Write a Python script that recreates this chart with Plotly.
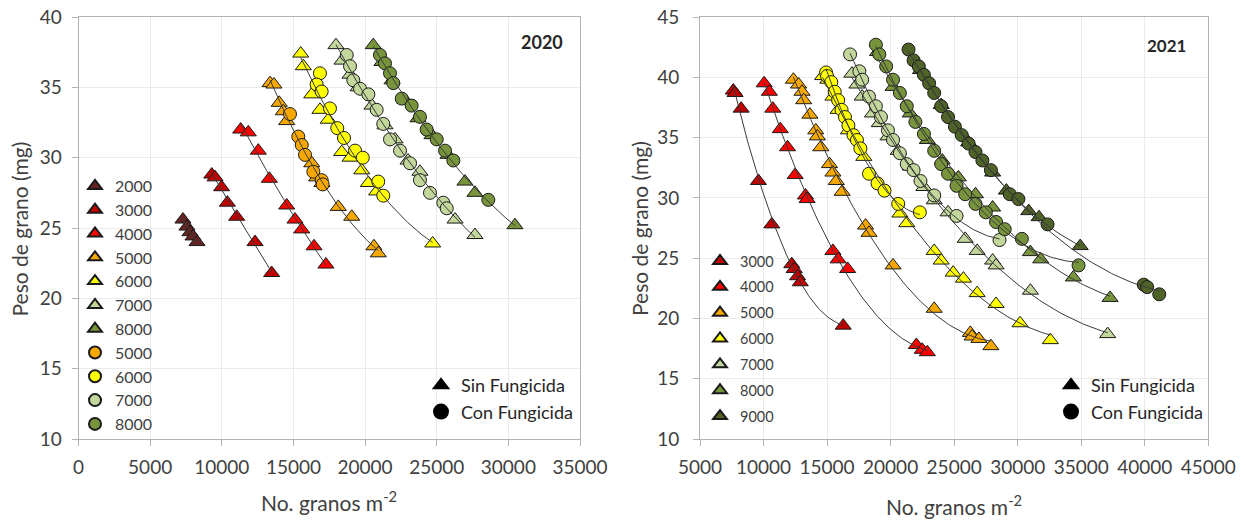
import numpy as np
import plotly.graph_objects as go

# ---------------- data: 2020 (left panel) ----------------
S20_2000_x = [7290, 7570, 7780, 7990, 8270]
S20_2000_y = [25.6, 25.1, 24.7, 24.4, 24.0]
S20_3000_x = [9300, 9530, 9990, 10390, 11040, 12320, 13480]
S20_3000_y = [28.8, 28.6, 27.9, 26.8, 25.8, 24.0, 21.8]
S20_4000_x = [11320, 11850, 12550, 13320, 14530, 15110, 15580, 16440, 17270]
S20_4000_y = [32.0, 31.8, 30.5, 28.5, 26.6, 25.6, 24.9, 23.7, 22.4]
S20_5000_x = [13370, 13640, 14010, 14290, 14530, 16280, 16620, 16990, 18130, 19070, 20620, 20920]
S20_5000_y = [35.3, 35.2, 33.9, 33.3, 32.6, 29.6, 28.6, 28.2, 26.5, 25.8, 23.7, 23.2]
C20_5000_x = [14760, 15340, 15580, 15810, 16390, 16970, 17040]
C20_5000_y = [33.1, 31.5, 30.9, 30.2, 29.0, 28.4, 28.1]
S20_6000_x = [15510, 15690, 16280, 16850, 17430, 18370, 18950, 19770, 20230, 20810, 24720]
S20_6000_y = [37.4, 36.5, 34.5, 33.4, 32.7, 30.4, 30.0, 29.1, 28.2, 27.6, 23.9]
C20_6000_x = [16850, 16620, 16970, 17550, 18060, 18530, 19300, 19840, 20920, 21270]
C20_6000_y = [36.0, 35.2, 34.7, 33.5, 32.1, 31.4, 30.5, 30.0, 28.3, 27.3]
S20_7000_x = [17970, 18390, 18950, 19510, 20480, 21390, 22090, 23000, 23830, 26280, 27670]
S20_7000_y = [38.0, 36.9, 35.9, 35.0, 33.7, 32.3, 31.3, 29.8, 29.0, 25.6, 24.5]
C20_7000_x = [18720, 18950, 19180, 19650, 20230, 20810, 21270, 21740, 22440, 23140, 23830, 24530, 25460, 25700]
C20_7000_y = [37.3, 36.5, 35.5, 34.9, 34.5, 33.4, 32.4, 31.3, 30.5, 29.6, 28.4, 27.5, 26.8, 26.4]
S20_8000_x = [20570, 21180, 21880, 22790, 23690, 24670, 25790, 26970, 27670, 30460]
S20_8000_y = [38.0, 36.8, 35.5, 34.1, 32.8, 31.6, 30.2, 28.3, 27.5, 25.2]
C20_8000_x = [21040, 21390, 21740, 21970, 22560, 23250, 23830, 24300, 25000, 25580, 26160, 28600]
C20_8000_y = [37.3, 36.7, 36.0, 35.3, 34.2, 33.7, 32.9, 32.0, 31.3, 30.5, 29.8, 27.0]

# ---------------- data: 2021 (right panel) ----------------
S21_3000_x = [7620, 7760, 8240, 9600, 10650, 12220, 12410, 12680, 12890, 16270]
S21_3000_y = [38.9, 38.7, 37.4, 31.4, 27.8, 24.5, 24.1, 23.5, 23.0, 19.4]
S21_4000_x = [10050, 10460, 10730, 11320, 11890, 12490, 13300, 13430, 15460, 15870, 16620, 22030, 22490, 22890]
S21_4000_y = [39.5, 38.8, 37.4, 35.7, 34.2, 31.9, 30.2, 29.9, 25.6, 24.9, 24.1, 17.8, 17.4, 17.2]
S21_5000_x = [12350, 12760, 13030, 13160, 13650, 14110, 14240, 14510, 15190, 15460, 15730, 16190, 18030, 18300,
              20190, 23430, 26270, 26410, 26950, 27890]
S21_5000_y = [39.8, 39.4, 38.8, 38.1, 36.9, 35.6, 35.1, 34.2, 32.8, 32.1, 31.4, 30.5, 27.7, 27.1,
              24.4, 20.8, 18.8, 18.5, 18.3, 17.7]
S21_6000_x = [14650, 15060, 15460, 15870, 16680, 17890, 20730, 21270, 23430, 23980, 24920, 25730, 26810, 28300, 30190, 32570]
S21_6000_y = [40.1, 39.8, 38.4, 37.3, 35.6, 33.4, 28.7, 27.9, 25.6, 24.8, 23.8, 23.3, 22.1, 21.2, 19.6, 18.2]
C21_6000_x = [14920, 15000, 15330, 15600, 15870, 16140, 16410, 16680, 17080, 17350, 17620, 18300, 18970, 19520, 20600, 22300]
C21_6000_y = [40.4, 40.1, 39.6, 38.8, 38.1, 37.3, 36.7, 36.0, 35.2, 34.8, 34.1, 32.0, 31.2, 30.6, 29.5, 28.8]
S21_7000_x = [16950, 17350, 17760, 18570, 19110, 19790, 20600, 21540, 22620, 23430, 24520, 25870, 26810, 28030, 28300, 31000, 37080]
S21_7000_y = [40.3, 39.4, 38.4, 37.0, 36.2, 35.1, 33.9, 32.6, 30.9, 29.8, 28.8, 26.6, 25.6, 24.8, 24.4, 22.3, 18.7]
C21_7000_x = [16810, 17540, 17760, 18300, 18840, 19240, 19790, 20190, 20730, 21270, 21810, 22350, 23430, 25190, 28570]
C21_7000_y = [41.9, 40.5, 39.8, 38.4, 37.6, 36.7, 35.6, 34.8, 33.7, 32.8, 32.3, 31.4, 30.2, 28.5, 26.5]
S21_8000_x = [18970, 20190, 21540, 22890, 24060, 25330, 26680, 28030, 31000, 31810, 34380, 37270]
S21_8000_y = [42.1, 39.2, 37.0, 34.8, 33.1, 31.7, 30.3, 29.2, 25.5, 24.9, 23.4, 21.7]
C21_8000_x = [18840, 19110, 19650, 20190, 20730, 21270, 21950, 22620, 23430, 23980, 24520, 25190, 25870, 26680,
              27490, 28300, 28980, 30330, 34790]
C21_8000_y = [42.7, 41.9, 40.9, 39.8, 38.7, 37.6, 36.3, 35.3, 33.9, 32.8, 32.0, 31.0, 30.3, 29.5,
              28.8, 28.0, 27.4, 26.6, 24.4]
S21_9000_x = [22350, 23980, 26140, 28030, 29110, 30870, 31680, 34920]
S21_9000_y = [40.6, 37.7, 34.6, 32.1, 30.6, 28.9, 28.4, 26.0]
C21_9000_x = [21410, 21810, 22220, 22620, 23030, 23430, 23980, 24520, 25060, 25600, 26140, 26680, 27220, 27890,
              29380, 30060, 32350, 39920, 40190, 41140]
C21_9000_y = [42.3, 41.4, 40.9, 40.2, 39.5, 38.7, 37.6, 36.7, 35.9, 35.2, 34.5, 33.8, 33.1, 32.3,
              30.3, 29.9, 27.8, 22.8, 22.6, 22.0]

# tick values
X20_TICKS = [0, 5000, 10000, 15000, 20000, 25000, 30000, 35000]
Y20_TICKS = [10, 15, 20, 25, 30, 35, 40]
X21_TICKS = [5000, 10000, 15000, 20000, 25000, 30000, 35000, 40000, 45000]
Y21_TICKS = [10, 15, 20, 25, 30, 35, 40, 45]

COLORS = {"2000": "#632523", "3000": "#C00000", "4000": "#FF0000", "5000": "#F7A800",
          "6000": "#FFFF00", "7000": "#C3D69B", "8000": "#77933C", "9000": "#4F6228"}

FONT = "Lato"
TXT = "#404040"
EDGE = "#1A1A1A"

fig = go.Figure()


def add_pts(x, y, dens, symbol, xa, ya, legend, show, group=None):
    fig.add_trace(go.Scatter(
        x=x, y=y, mode="markers", name=dens, xaxis=xa, yaxis=ya,
        marker=dict(symbol=symbol, size=13 if symbol == "circle" else 14,
                    color=COLORS[dens], line=dict(color=EDGE, width=1)),
        showlegend=show, legend=legend, legendgroup=group, hoverinfo="x+y"))


def add_fit(x, y, xa, ya):
    x = np.asarray(x, float)
    y = np.asarray(y, float)
    c = np.polyfit(x, y, 2)
    xs = np.linspace(x.min(), x.max(), 80)
    fig.add_trace(go.Scatter(x=xs, y=np.polyval(c, xs), mode="lines", xaxis=xa, yaxis=ya,
                             line=dict(color="#3A3A3A", width=1), showlegend=False, hoverinfo="skip"))


# ---- left panel ----
left_sin = [("2000", S20_2000_x, S20_2000_y), ("3000", S20_3000_x, S20_3000_y),
            ("4000", S20_4000_x, S20_4000_y), ("5000", S20_5000_x, S20_5000_y),
            ("6000", S20_6000_x, S20_6000_y), ("7000", S20_7000_x, S20_7000_y),
            ("8000", S20_8000_x, S20_8000_y)]
left_con = [("5000", C20_5000_x, C20_5000_y), ("6000", C20_6000_x, C20_6000_y),
            ("7000", C20_7000_x, C20_7000_y), ("8000", C20_8000_x, C20_8000_y)]
for d, x, y in left_sin:
    add_pts(x, y, d, "triangle-up", "x", "y", "legend", True)
for d, x, y in left_con:
    add_pts(x, y, d, "circle", "x", "y", "legend", True)
con_map = {d: (x, y) for d, x, y in left_con}
for d, x, y in left_sin:
    xx, yy = list(x), list(y)
    if d in con_map:
        xx += con_map[d][0]
        yy += con_map[d][1]
    add_fit(xx, yy, "x", "y")

# ---- right panel ----
right_sin = [("3000", S21_3000_x, S21_3000_y), ("4000", S21_4000_x, S21_4000_y),
             ("5000", S21_5000_x, S21_5000_y), ("6000", S21_6000_x, S21_6000_y),
             ("7000", S21_7000_x, S21_7000_y), ("8000", S21_8000_x, S21_8000_y),
             ("9000", S21_9000_x, S21_9000_y)]
right_con = [("6000", C21_6000_x, C21_6000_y), ("7000", C21_7000_x, C21_7000_y),
             ("8000", C21_8000_x, C21_8000_y), ("9000", C21_9000_x, C21_9000_y)]
for d, x, y in right_sin:
    add_pts(x, y, d, "triangle-up", "x2", "y2", "legend2", True, group="r" + d)
for d, x, y in right_con:
    add_pts(x, y, d, "circle", "x2", "y2", "legend2", False, group="rc" + d)
for d, x, y in right_sin + right_con:
    add_fit(x, y, "x2", "y2")

# ---- treatment legends ----
for leg in ["legend3", "legend4"]:
    fig.add_trace(go.Scatter(x=[None], y=[None], mode="markers", name="Sin Fungicida", legend=leg,
                             marker=dict(symbol="triangle-up", size=16, color="black")))
    fig.add_trace(go.Scatter(x=[None], y=[None], mode="markers", name="Con Fungicida", legend=leg,
                             marker=dict(symbol="circle", size=16, color="black")))

W, H = 1246, 523
def px(v): return v / W
def py(v): return 1 - v / H

axis_common = dict(showgrid=True, gridcolor="#EBEBEB", gridwidth=1, zeroline=False,
                   showline=True, linecolor="#B3B3B3", linewidth=1, mirror=True,
                   ticks="outside", ticklen=6, tickcolor="#B3B3B3", automargin=False,
                   tickformat="d", tickfont=dict(family=FONT, size=19, color=TXT))
title_font = dict(family=FONT, size=21, color=TXT)


def ann(text, x, y, font, angle=0):
    return dict(text=text, x=px(x), y=py(y), xref="paper", yref="paper", showarrow=False,
                xanchor="center", yanchor="middle", textangle=angle, font=font)


fig.update_layout(
    width=W, height=H, margin=dict(l=0, r=0, t=0, b=0, autoexpand=False),
    paper_bgcolor="white", plot_bgcolor="white",
    font=dict(family=FONT, color=TXT),
    xaxis=dict(domain=[px(78.5), px(580)], range=[0, 35000], tickvals=X20_TICKS, anchor="y",
               ticklabelstandoff=5, **axis_common),
    yaxis=dict(domain=[py(439), py(17)], range=[10, 40], tickvals=Y20_TICKS, anchor="x",
               ticklabelstandoff=6, **axis_common),
    xaxis2=dict(domain=[px(700), px(1208.3)], range=[5000, 45000], tickvals=X21_TICKS, anchor="y2",
                ticklabelstandoff=5, **axis_common),
    yaxis2=dict(domain=[py(439), py(17)], range=[10, 45], tickvals=Y21_TICKS, anchor="x2",
                ticklabelstandoff=10, **axis_common),
    legend=dict(x=px(75), y=py(169), xanchor="left", yanchor="top", bgcolor="rgba(0,0,0,0)",
                font=dict(family=FONT, size=16, color=TXT), itemsizing="constant", traceorder="normal"),
    legend2=dict(x=px(700), y=py(245), xanchor="left", yanchor="top", bgcolor="rgba(0,0,0,0)",
                 font=dict(family=FONT, size=14.5, color=TXT), itemsizing="constant", tracegroupgap=4),
    legend3=dict(x=px(421), y=py(367), xanchor="left", yanchor="top", bgcolor="rgba(0,0,0,0)",
                 font=dict(family=FONT, size=18, color="#262626"), itemsizing="trace"),
    legend4=dict(x=px(1051), y=py(367), xanchor="left", yanchor="top", bgcolor="rgba(0,0,0,0)",
                 font=dict(family=FONT, size=18, color="#262626"), itemsizing="trace"),
    annotations=[
        ann("<b>2020</b>", 542, 42, dict(family=FONT, size=18, color="#262626")),
        ann("<b>2021</b>", 1166, 45, dict(family=FONT, size=17, color="#262626")),
        ann("Peso de grano (mg)", 18.5, 229, title_font, -90),
        ann("Peso de grano (mg)", 639, 229, title_font, -90),
        ann("No. granos m<sup>-2</sup>", 329, 501, title_font),
        ann("No. granos m<sup>-2</sup>", 954, 505, title_font),
    ],
)

fig.write_html("out.html", config={"displayModeBar": False},
               post_script="document.body.style.margin='0';document.body.style.overflow='hidden';")
